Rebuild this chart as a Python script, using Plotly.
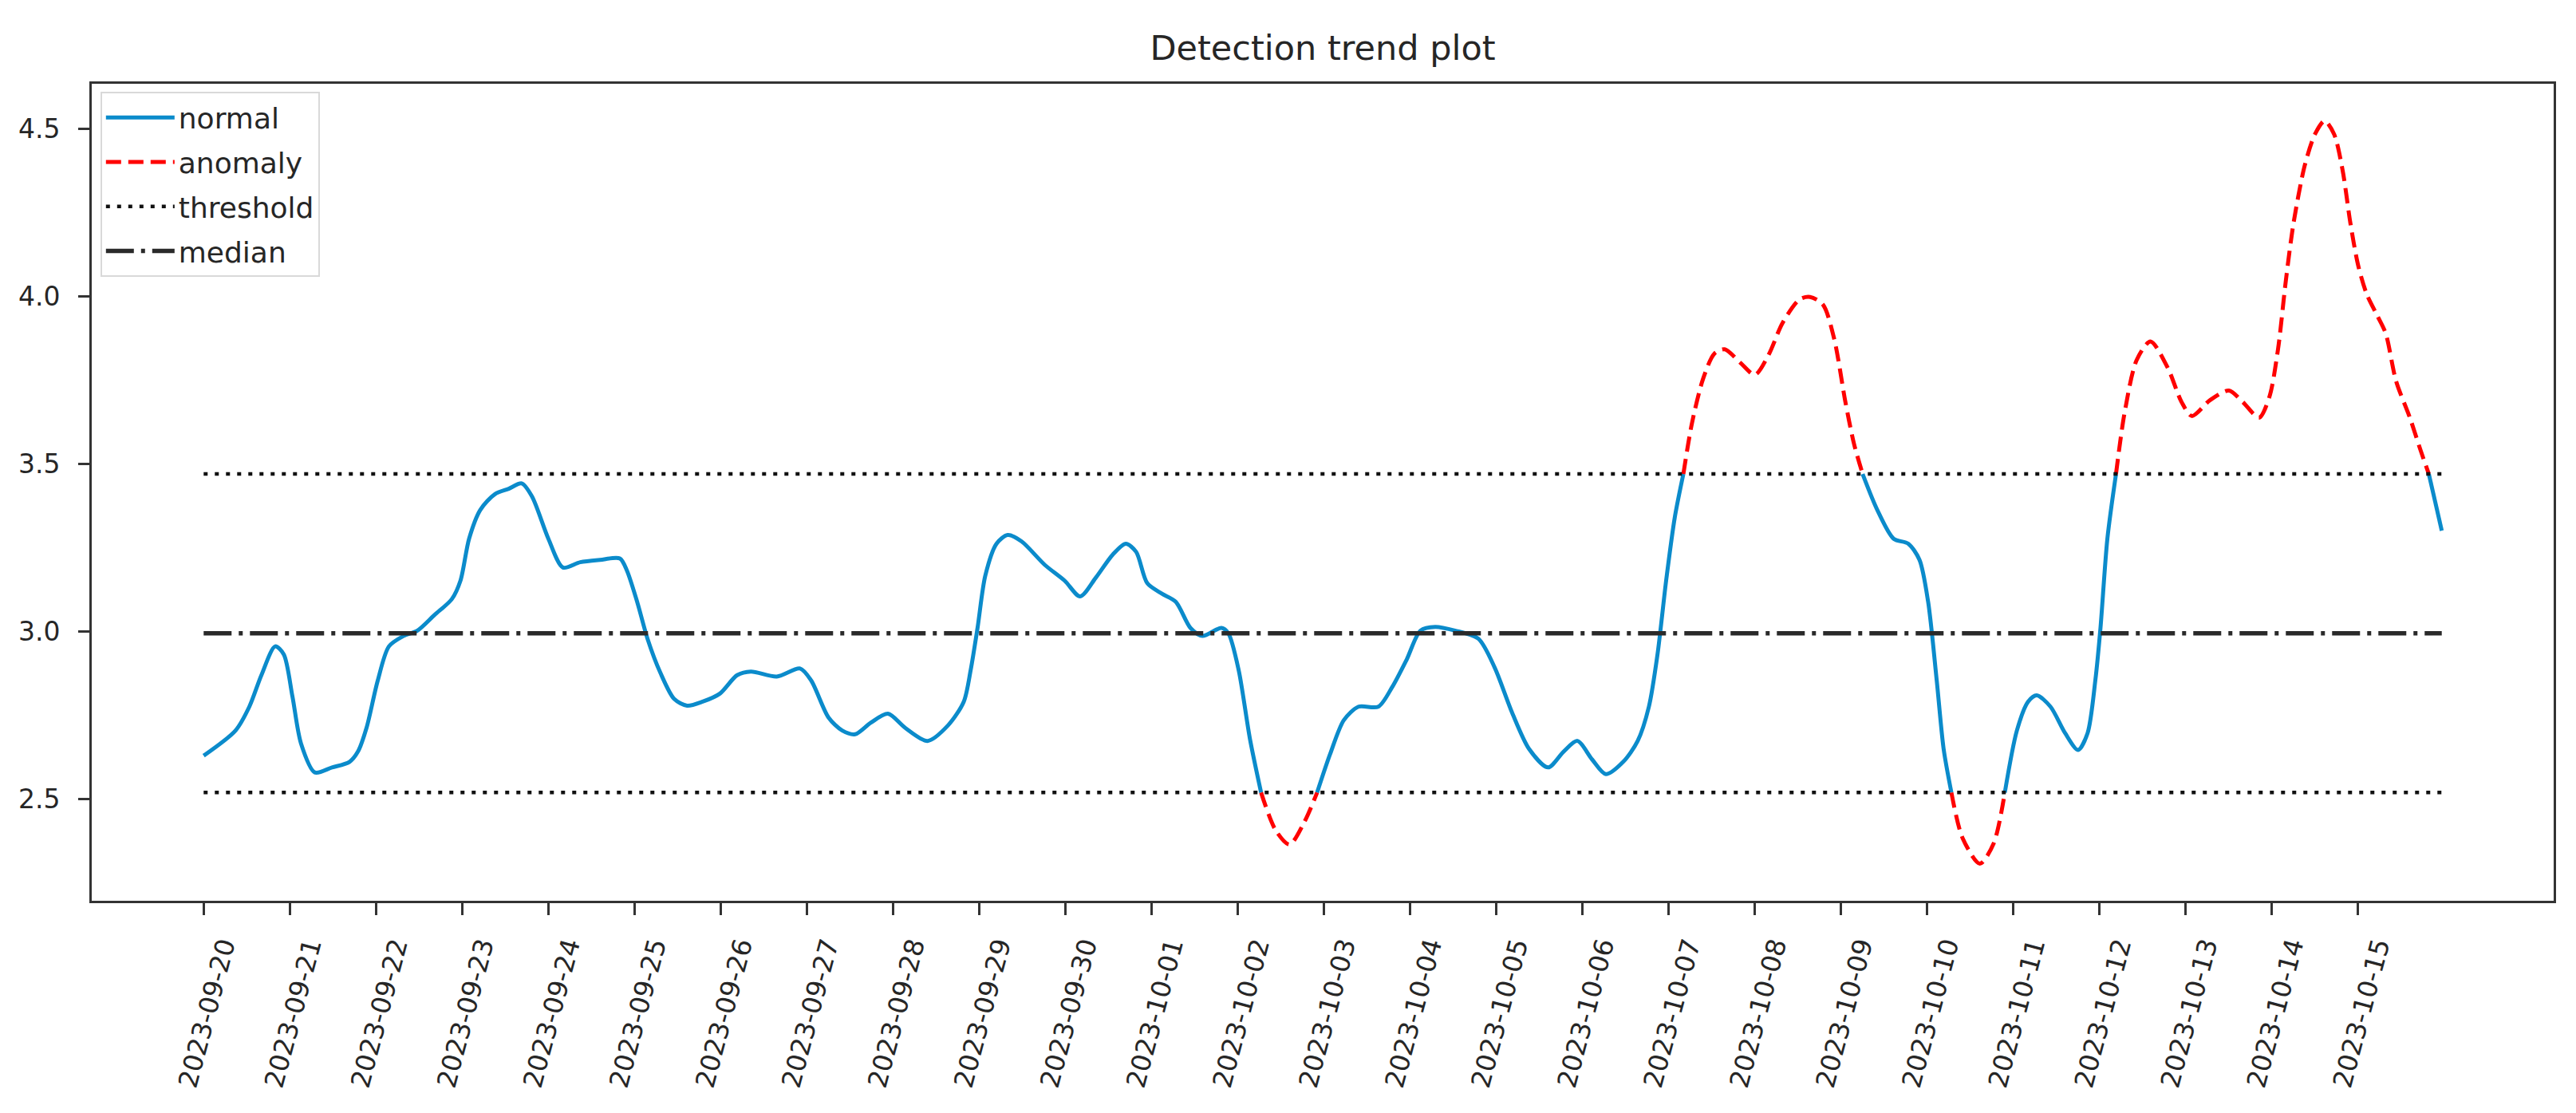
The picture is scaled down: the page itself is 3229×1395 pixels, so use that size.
import pandas as pd
import plotly.graph_objects as go

# ---------------- data ----------------
start_date = "2023-09-20"

day_offsets = [
    0.00, 0.37, 0.53, 0.67, 0.83, 0.93, 1.03, 1.13, 1.29, 1.49, 1.69, 1.79, 1.89,
    2.02, 2.15, 2.32, 2.48, 2.68, 2.88, 2.98, 3.08, 3.21, 3.38, 3.54, 3.69, 3.81,
    4.00, 4.17, 4.37, 4.60, 4.83, 4.91, 5.03, 5.15, 5.30, 5.46, 5.61, 5.79, 5.99,
    6.19, 6.35, 6.65, 6.92, 7.05, 7.25, 7.41, 7.56, 7.74, 7.94, 8.14, 8.40, 8.64,
    8.82, 8.90, 8.98, 9.07, 9.20, 9.33, 9.49, 9.76, 9.99, 10.17, 10.35, 10.55,
    10.70, 10.82, 10.95, 11.12, 11.28, 11.45, 11.59, 11.81, 11.89, 12.01, 12.14,
    12.27, 12.44, 12.60, 12.77, 12.92, 13.07, 13.23, 13.40, 13.63, 13.79, 13.96,
    14.12, 14.29, 14.52, 14.79, 14.98, 15.18, 15.38, 15.60, 15.78, 15.94, 16.11,
    16.27, 16.47, 16.64, 16.77, 16.87, 16.97, 17.07, 17.17, 17.27, 17.40, 17.53,
    17.65, 17.83, 18.00, 18.16, 18.32, 18.52, 18.64, 18.79, 18.92, 19.05, 19.15,
    19.25, 19.42, 19.61, 19.78, 19.91, 20.01, 20.11, 20.19, 20.28, 20.41, 20.61,
    20.77, 20.90, 21.04, 21.17, 21.27, 21.43, 21.60, 21.75, 21.86, 21.95, 22.01,
    22.09, 22.19, 22.29, 22.43, 22.59, 22.79, 22.95, 23.07, 23.28, 23.50, 23.66,
    23.85, 23.97, 24.07, 24.16, 24.25, 24.38, 24.50, 24.61, 24.72, 24.82, 24.91,
    25.00, 25.10, 25.22, 25.32, 25.44, 25.60, 25.72, 25.82, 25.97,
]

scores = [
    2.630, 2.705, 2.776, 2.870, 2.956, 2.932, 2.807, 2.666, 2.580, 2.595, 2.611, 2.642, 2.713,
    2.854, 2.956, 2.987, 3.003, 3.050, 3.097, 3.152, 3.277, 3.363, 3.410, 3.426, 3.442, 3.403,
    3.277, 3.191, 3.207, 3.214, 3.218, 3.183, 3.089, 2.979, 2.877, 2.799, 2.779, 2.791, 2.815,
    2.870, 2.881, 2.866, 2.890, 2.854, 2.744, 2.705, 2.694, 2.728, 2.755, 2.713, 2.674, 2.721,
    2.791, 2.885, 3.011, 3.167, 3.262, 3.288, 3.269, 3.199, 3.152, 3.105, 3.160, 3.230,
    3.262, 3.238, 3.144, 3.113, 3.089, 3.011, 2.987, 3.011, 2.995, 2.885, 2.681,
    2.52, 2.407, 2.365, 2.431, 2.52, 2.634, 2.736, 2.776, 2.776, 2.834, 2.917,
    3.003, 3.014, 3.003, 2.979, 2.893, 2.760, 2.650, 2.595, 2.642, 2.674, 2.619,
    2.575, 2.611, 2.674, 2.776, 2.932, 3.152, 3.340, 3.47, 3.622, 3.755, 3.829,
    3.842, 3.802, 3.766, 3.826, 3.920, 3.991, 3.998, 3.975, 3.873, 3.685, 3.560,
    3.47, 3.363, 3.277, 3.262, 3.214, 3.089, 2.854, 2.650, 2.52, 2.384, 2.308,
    2.368, 2.52, 2.705, 2.791, 2.810, 2.776, 2.697, 2.647, 2.697, 2.854, 3.011,
    3.277, 3.47, 3.653, 3.810, 3.865, 3.787, 3.685, 3.643, 3.690, 3.719, 3.685,
    3.638, 3.700, 3.842, 4.045, 4.218, 4.390, 4.484, 4.523, 4.484, 4.375, 4.218,
    4.092, 4.006, 3.943, 3.889, 3.747, 3.638, 3.544, 3.47, 3.301,
]

upper_threshold = 3.47
lower_threshold = 2.52
median_value = 2.995

tick_dates = [
    "2023-09-20", "2023-09-21", "2023-09-22", "2023-09-23", "2023-09-24",
    "2023-09-25", "2023-09-26", "2023-09-27", "2023-09-28", "2023-09-29",
    "2023-09-30", "2023-10-01", "2023-10-02", "2023-10-03", "2023-10-04",
    "2023-10-05", "2023-10-06", "2023-10-07", "2023-10-08", "2023-10-09",
    "2023-10-10", "2023-10-11", "2023-10-12", "2023-10-13", "2023-10-14",
    "2023-10-15",
]

y_tick_values = [2.5, 3.0, 3.5, 4.0, 4.5]
y_tick_labels = ["2.5", "3.0", "3.5", "4.0", "4.5"]

# ---------------- derived ----------------
t0 = pd.Timestamp(start_date)
times = [t0 + pd.Timedelta(days=d) for d in day_offsets]
tstr = [t.strftime("%Y-%m-%d %H:%M:%S") for t in times]

eps = 1e-9
normal_y = [v if (lower_threshold - eps <= v <= upper_threshold + eps) else None for v in scores]
anomaly_y = [v if (v >= upper_threshold - eps or v <= lower_threshold + eps) else None for v in scores]

t_first, t_last = times[0], times[-1]
span = t_last - t_first
x_lo = (t_first - 0.05 * span).strftime("%Y-%m-%d %H:%M:%S")
x_hi = (t_last + 0.05 * span).strftime("%Y-%m-%d %H:%M:%S")
y_min, y_max = min(scores), max(scores)
y_pad = 0.05 * (y_max - y_min)

FONT = "DejaVu Sans"
BLUE = "#0b8bcb"
TXT = "#262626"
AX = "#333333"

fig = go.Figure()

fig.add_trace(go.Scatter(
    x=tstr, y=normal_y, mode="lines", name="normal", legendgroup="g1",
    line=dict(color=BLUE, width=5, shape="spline", smoothing=0.8),
    connectgaps=False,
))
fig.add_trace(go.Scatter(
    x=tstr, y=anomaly_y, mode="lines", name="anomaly", legendgroup="g2",
    line=dict(color="#ff0000", width=5, shape="spline", smoothing=0.8, dash="19px,9px"),
    connectgaps=False,
))
fig.add_trace(go.Scatter(
    x=[tstr[0], tstr[-1], None, tstr[0], tstr[-1]],
    y=[upper_threshold, upper_threshold, None, lower_threshold, lower_threshold],
    mode="lines", name="threshold", legendgroup="g3",
    line=dict(color="#111111", width=4.5, dash="5px,9px"),
))
fig.add_trace(go.Scatter(
    x=[tstr[0], tstr[-1]], y=[median_value, median_value],
    mode="lines", name="median", legendgroup="g4",
    line=dict(color="#2a2a2a", width=5.5, dash="35px,9px,5px,9px"),
))

fig.update_layout(
    width=3229, height=1395,
    margin=dict(l=107, r=36, t=97, b=274),
    paper_bgcolor="white", plot_bgcolor="white",
    font=dict(family=FONT, size=33, color=TXT),
    title=dict(text="Detection trend plot", x=0.5, xref="paper", xanchor="center",
               y=1 - 52 / 1395, yref="container", yanchor="middle",
               font=dict(family=FONT, size=43, color=TXT)),
    showlegend=True,
    legend=dict(
        x=0.0035, y=0.99, xanchor="left", yanchor="top",
        bgcolor="rgba(255,255,255,0.85)", bordercolor="#d9d9d9", borderwidth=2,
        font=dict(family=FONT, size=36, color=TXT),
        tracegroupgap=6, itemwidth=86,
    ),
    xaxis=dict(
        type="date", range=[x_lo, x_hi],
        tickmode="array", tickvals=tick_dates, ticktext=tick_dates,
        tickangle=-75, ticklabelshift=24, ticklabelstandoff=6,
        showline=True, mirror=True, linecolor=AX, linewidth=3,
        ticks="outside", ticklen=15, tickwidth=2.5, tickcolor=AX,
        showgrid=False, zeroline=False,
        tickfont=dict(family=FONT, size=33, color=TXT),
    ),
    yaxis=dict(
        range=[y_min - y_pad, y_max + y_pad],
        tickmode="array", tickvals=y_tick_values, ticktext=y_tick_labels,
        ticklabelstandoff=16,
        showline=True, mirror=True, linecolor=AX, linewidth=3,
        ticks="outside", ticklen=14, tickwidth=2.5, tickcolor=AX,
        showgrid=False, zeroline=False,
        tickfont=dict(family=FONT, size=33, color=TXT),
    ),
)

fig.write_html("out.html")
